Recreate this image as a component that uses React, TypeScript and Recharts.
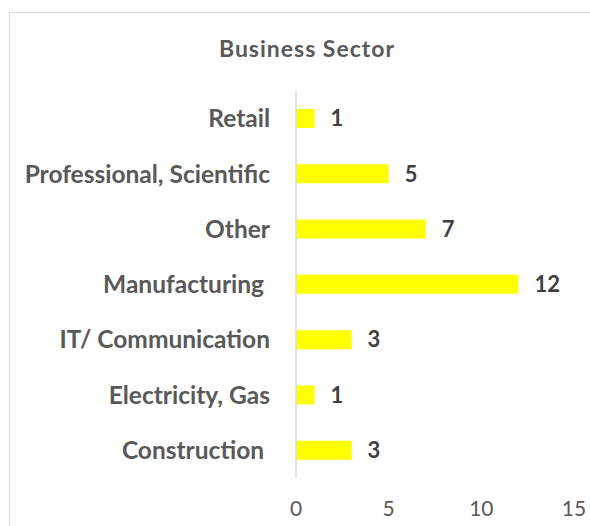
import { Bar, BarChart, LabelList, XAxis, YAxis } from "recharts";

const categories = [
  "Retail",
  "Professional, Scientific",
  "Other",
  "Manufacturing ",
  "IT/ Communication",
  "Electricity, Gas",
  "Construction ",
];
const counts = [1, 5, 7, 12, 3, 1, 3];
const xTicks = [0, 5, 10, 15];

const data = categories.map((name, i) => ({ name, value: counts[i] }));

const FONT = "Lato, 'Open Sans', sans-serif";

function CategoryTick(props: any) {
  const { x, y, payload } = props;
  return (
    <text
      x={x}
      y={y}
      dy="0.35em"
      textAnchor="end"
      fill="#595959"
      fontFamily={FONT}
      fontWeight={700}
      fontSize={24.5}
      style={{ whiteSpace: "pre" }}
    >
      {payload.value}
    </text>
  );
}

export default function App() {
  return (
    <div
      style={{
        position: "absolute",
        left: 0,
        top: 0,
        width: 590,
        height: 526,
        overflow: "hidden",
        background: "#fff",
      }}
    >
      <div
        style={{
          position: "absolute",
          left: 9,
          top: 12,
          width: 640,
          height: 600,
          border: "1px solid #d9d9d9",
        }}
      />
      <div
        style={{
          position: "absolute",
          left: 0,
          top: 34,
          width: 614,
          textAlign: "center",
          fontFamily: FONT,
          fontWeight: 700,
          fontSize: 23,
          letterSpacing: 1,
          color: "#595959",
          whiteSpace: "nowrap",
        }}
      >
        Business Sector
      </div>
      <div style={{ position: "absolute", left: 0, top: 0 }}>
        <BarChart
          width={590}
          height={526}
          data={data}
          layout="vertical"
          margin={{ top: 91, right: 16, bottom: 18, left: 0 }}
          barSize={19}
        >
          <XAxis
            type="number"
            domain={[0, 15]}
            ticks={xTicks}
            axisLine={false}
            tickLine={false}
            height={30}
            tickMargin={17}
            tick={{ fill: "#595959", fontFamily: FONT, fontSize: 21 }}
          />
          <YAxis
            type="category"
            dataKey="name"
            width={296}
            axisLine={{ stroke: "#d9d9d9", strokeWidth: 1.5 }}
            tickLine={false}
            tickMargin={20}
            tick={<CategoryTick />}
            interval={0}
          />
          <Bar dataKey="value" fill="#ffff00" isAnimationActive={false}>
            <LabelList
              dataKey="value"
              position="right"
              offset={16}
              fill="#404040"
              fontFamily={FONT}
              fontWeight={700}
              fontSize={22}
            />
          </Bar>
        </BarChart>
      </div>
    </div>
  );
}
